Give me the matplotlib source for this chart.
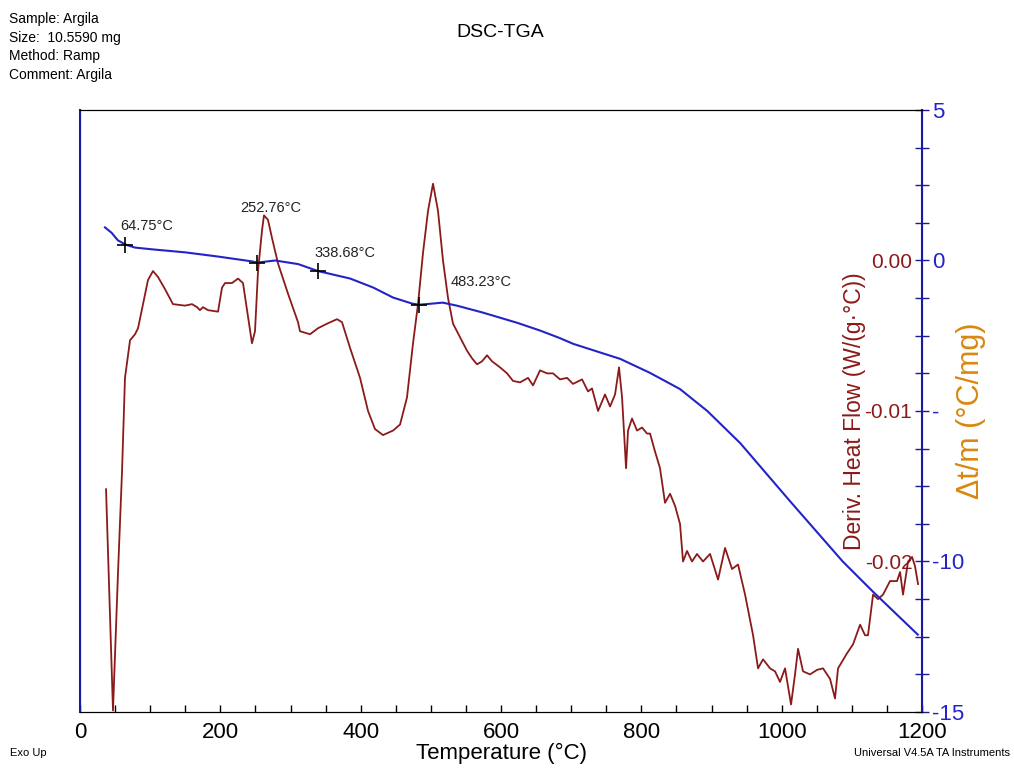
import matplotlib
matplotlib.use('Agg')
import matplotlib.pyplot as plt
from matplotlib.ticker import MultipleLocator, FormatStrFormatter
import numpy as np

plt.rcParams['font.family'] = ['Liberation Sans', 'DejaVu Sans']
plt.rcParams['axes.unicode_minus'] = False

# Derivative heat flow, W/(g.°C)
hf_temp = [37.1, 47.0, 54.2, 59.9, 64.1, 71.3, 78.4, 82.7, 89.8, 96.9, 104.0, 111.2,
           121.1, 132.5, 149.6, 159.6, 166.7, 171.0, 175.3, 182.4, 196.7, 202.4, 206.7,
           216.6, 225.2, 232.3, 238.0, 245.1, 249.4, 253.7, 259.4, 262.2, 267.9, 273.6,
           282.2, 296.4, 310.7, 313.5, 327.8, 339.2, 352.0, 366.3, 373.4, 384.8, 399.1,
           410.5, 420.4, 431.8, 446.1, 456.1, 466.0, 474.6, 481.7, 488.8, 496.0, 503.1,
           510.2, 517.3, 524.5, 531.6, 541.6, 551.6, 558.7, 565.8, 572.9, 580.1, 587.2,
           598.6, 608.6, 617.1, 627.1, 638.5, 645.6, 655.6, 665.6, 674.1, 684.1, 694.1,
           702.6, 715.5, 724.0, 729.7, 738.3, 748.2, 755.4, 762.5, 768.2, 772.5, 778.2,
           781.0, 786.7, 793.8, 801.0, 808.1, 812.4, 819.5, 826.6, 833.7, 840.9, 848.0,
           855.1, 859.4, 865.1, 872.2, 879.3, 887.9, 897.9, 909.3, 919.3, 929.2, 937.8,
           947.8, 959.2, 966.3, 973.4, 983.4, 990.5, 997.6, 1004.8, 1013.3, 1019.0,
           1023.3, 1030.4, 1040.4, 1050.4, 1058.9, 1068.9, 1076.0, 1080.3, 1093.1,
           1101.7, 1111.7, 1118.8, 1123.0, 1130.2, 1137.3, 1144.4, 1154.4, 1164.4,
           1168.7, 1172.9, 1180.1, 1185.8, 1190.0, 1194.3]
hf_value = [-0.0152, -0.0299, -0.0207, -0.0140, -0.0078, -0.0053, -0.0049, -0.0045,
            -0.0029, -0.0013, -0.0007, -0.0011, -0.0019, -0.0029, -0.0030, -0.0029,
            -0.0031, -0.0033, -0.0031, -0.0033, -0.0034, -0.0018, -0.0015, -0.0015,
            -0.0012, -0.0015, -0.0033, -0.0055, -0.0047, -0.0007, 0.0020, 0.0030,
            0.0027, 0.0015, -0.0002, -0.0022, -0.0041, -0.0047, -0.0049, -0.0045,
            -0.0042, -0.0039, -0.0041, -0.0058, -0.0078, -0.0100, -0.0112, -0.0116,
            -0.0113, -0.0109, -0.0091, -0.0055, -0.0029, 0.0005, 0.0033, 0.0051,
            0.0033, 0.0000, -0.0025, -0.0042, -0.0051, -0.0060, -0.0065, -0.0069,
            -0.0067, -0.0063, -0.0067, -0.0071, -0.0075, -0.0080, -0.0081, -0.0078,
            -0.0083, -0.0073, -0.0075, -0.0075, -0.0079, -0.0078, -0.0082, -0.0079,
            -0.0087, -0.0085, -0.0100, -0.0089, -0.0097, -0.0089, -0.0071, -0.0091,
            -0.0138, -0.0113, -0.0105, -0.0113, -0.0111, -0.0115, -0.0115, -0.0127,
            -0.0138, -0.0161, -0.0155, -0.0163, -0.0175, -0.0200, -0.0193, -0.0200,
            -0.0195, -0.0200, -0.0195, -0.0212, -0.0191, -0.0205, -0.0202, -0.0222,
            -0.0249, -0.0271, -0.0265, -0.0271, -0.0273, -0.0280, -0.0271, -0.0295,
            -0.0275, -0.0258, -0.0273, -0.0275, -0.0272, -0.0271, -0.0278, -0.0291,
            -0.0271, -0.0261, -0.0255, -0.0242, -0.0249, -0.0249, -0.0222, -0.0225,
            -0.0222, -0.0213, -0.0213, -0.0207, -0.0222, -0.0200, -0.0197, -0.0203,
            -0.0215]

# Delta t / m, °C/mg
dt_temp = [35.6, 45.0, 54.0, 64.75, 78.0, 103.0, 150.0, 197.0, 245.0, 252.76, 278.0,
           311.0, 339.0, 385.0, 418.0, 446.0, 473.0, 483.23, 503.0, 517.0, 537.0,
           574.0, 623.0, 656.0, 684.0, 703.0, 770.0, 812.0, 855.0, 894.0, 941.0,
           1012.0, 1087.0, 1130.0, 1194.0]
dt_value = [1.10, 0.92, 0.67, 0.53, 0.43, 0.37, 0.27, 0.13, -0.03, -0.07, 0.0,
            -0.12, -0.35, -0.60, -0.90, -1.23, -1.43, -1.47, -1.43, -1.40, -1.50,
            -1.73, -2.07, -2.33, -2.58, -2.77, -3.27, -3.73, -4.27, -5.00, -6.07,
            -8.00, -10.00, -11.00, -12.43]

marker_temps = [64.75, 252.76, 338.68, 483.23]
marker_offsets = [(-4, 8), (-12, 34), (-2, 8), (23, 11)]

red = '#8B1A1A'
blue = '#2323C8'
navy = '#1A1AA0'

fig = plt.figure(figsize=(10.14, 7.74), dpi=100)
ax = fig.add_axes([0.0789, 0.0801, 0.8304, 0.7778])
ax2 = ax.twinx()

# heat flow trace on the base axes
ax.plot(hf_temp, hf_value, color=red, lw=1.3, zorder=2)
ax.set_xlim(0, 1200)
ax.set_ylim(-0.03, 0.01)
ax.xaxis.set_major_locator(MultipleLocator(200))
ax.xaxis.set_minor_locator(MultipleLocator(50))
ax.tick_params(axis='x', which='both', direction='in', length=5, width=1,
               labelsize=16, pad=7)
ax.set_xlabel('Temperature (°C)', fontsize=16, labelpad=0)

ax.yaxis.tick_right()
ax.yaxis.set_label_position('right')
ax.set_yticks([0.0, -0.01, -0.02])
ax.yaxis.set_major_formatter(FormatStrFormatter('%.2f'))
ax.tick_params(axis='y', length=0, pad=-7, labelsize=15, labelcolor=red)
for lbl in ax.get_yticklabels():
    lbl.set_horizontalalignment('right')
ax.set_ylabel('Deriv. Heat Flow (W/(g·°C))', color=red, fontsize=16.5,
              labelpad=-40, rotation=90)
ax.yaxis.label.set_verticalalignment('bottom')

# delta t / m trace on the twin axis
ax2.plot(dt_temp, dt_value, color=blue, lw=1.5, zorder=3)
ax2.set_ylim(-15, 5)
ax2.set_yticks([5, 0, -5, -10, -15])
ax2.yaxis.set_minor_locator(MultipleLocator(1.25))
ax2.tick_params(axis='y', which='both', direction='inout', length=10, width=1,
                color=navy, labelcolor=blue, labelsize=16, pad=2)
ax2.set_ylabel('Δt/m (°C/mg)', color='#D98810', fontsize=22, labelpad=-6,
               bbox=dict(facecolor='white', edgecolor='none', pad=11))

for sp in ['left', 'right']:
    ax.spines[sp].set_color(navy)
    ax2.spines[sp].set_color(navy)
    ax2.spines[sp].set_linewidth(1.5)

# crosshair markers with temperature labels
marker_vals = np.interp(marker_temps, dt_temp, dt_value)
ax2.plot(marker_temps, marker_vals, linestyle='none', marker='+', color='black',
         markersize=12, markeredgewidth=1.2, zorder=4)
for t, v, off in zip(marker_temps, marker_vals, marker_offsets):
    ax2.annotate(f'{t:.2f}°C', xy=(t, v), xytext=off, textcoords='offset points',
                 fontsize=10.5, color='#222222', ha='left', va='bottom')

fig.text(0.493, 0.958, 'DSC-TGA', fontsize=14, ha='center', va='center')
fig.text(0.009, 0.984, 'Sample: Argila\nSize:  10.5590 mg\nMethod: Ramp\nComment: Argila',
         fontsize=10, ha='left', va='top', linespacing=1.4)
fig.text(0.010, 0.027, 'Exo Up', fontsize=8, ha='left', va='center')
fig.text(0.996, 0.027, 'Universal V4.5A TA Instruments', fontsize=8, ha='right',
         va='center')

fig.savefig('out.png', dpi=100)
